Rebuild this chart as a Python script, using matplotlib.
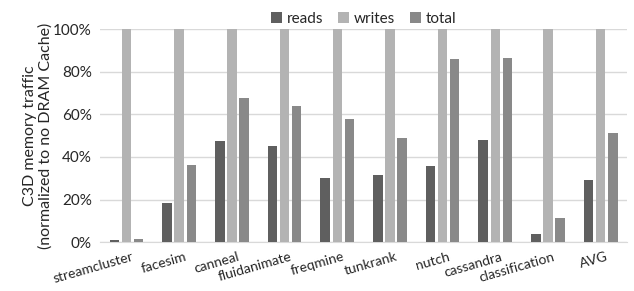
import matplotlib
matplotlib.use("Agg")
import matplotlib.pyplot as plt
import matplotlib.transforms as mtransforms
import numpy as np
from matplotlib.ticker import FuncFormatter

categories = ["streamcluster", "facesim", "canneal", "fluidanimate", "freqmine",
              "tunkrank", "nutch", "cassandra", "classification", "AVG"]
reads = [1.0, 18.5, 47.5, 45.0, 30.0, 31.5, 35.5, 48.0, 4.0, 29.0]
writes = [100, 100, 100, 100, 100, 100, 100, 100, 100, 100]
total = [1.5, 36.0, 67.5, 64.0, 58.0, 49.0, 86.0, 86.5, 11.5, 51.0]
series_names = ["reads", "writes", "total"]
colors = ["#5f5f5f", "#b3b3b3", "#898989"]

plt.rcParams['font.family'] = ['Lato', 'DejaVu Sans']
fig = plt.figure(figsize=(6.34, 2.91), dpi=100)
ax = fig.add_axes([0.158, 0.168, 0.831, 0.732])

x = np.arange(len(categories))
w = 0.18
step = 0.23
for i, (vals, name, c) in enumerate(zip([reads, writes, total], series_names, colors)):
    ax.bar(x + (i - 1) * step, vals, width=w, color=c, label=name, zorder=3)

ax.set_xlim(-0.5, len(categories) - 0.5)
ax.set_ylim(0, 100)
ax.set_yticks(np.arange(0, 101, 20))
ax.yaxis.set_major_formatter(FuncFormatter(lambda v, p: f"{int(v)}%"))
ax.grid(axis='y', color='#d9d9d9', linewidth=1, zorder=0)
for s in ['top', 'right', 'left']:
    ax.spines[s].set_visible(False)
ax.spines['bottom'].set_color('#d9d9d9')
ax.tick_params(axis='both', length=0, labelsize=11, colors='#262626')
ax.tick_params(axis='y', pad=6)
ax.set_xticks(x)
ax.set_xticklabels(categories, rotation=16, ha='right', rotation_mode='anchor', fontsize=10)
ax.tick_params(axis='x', pad=6)
offset = mtransforms.ScaledTranslation(5 / 100, 0, fig.dpi_scale_trans)
for lbl in ax.get_xticklabels():
    lbl.set_transform(lbl.get_transform() + offset)
ax.set_ylabel("C3D memory traffic\n(normalized to no DRAM Cache)", fontsize=11.5,
              color='#262626', labelpad=0, linespacing=1.15)

ax.legend(loc='lower center', bbox_to_anchor=(0.5, 0.985), ncol=3, frameon=False,
          fontsize=11, handlelength=0.7, handleheight=0.7, handletextpad=0.3,
          columnspacing=1.0, borderaxespad=0, labelcolor='#262626')

fig.savefig("out.png", dpi=100)
